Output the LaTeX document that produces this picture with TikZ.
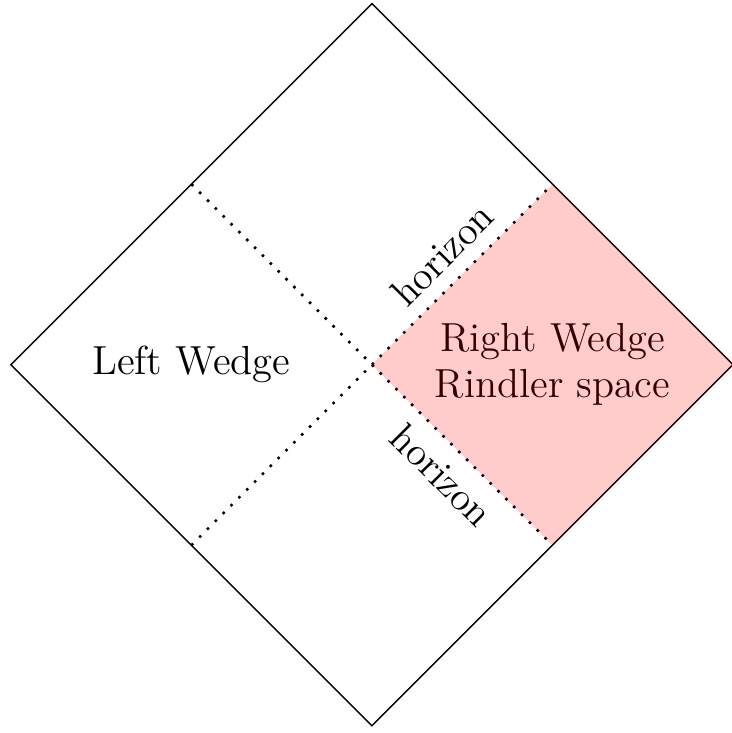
\documentclass[tikz,border=0pt]{standalone}
\usepackage{tikz}
\tikzset{
  outline/.style={draw=black, line width=0.45pt},
  horizonline/.style={line width=0.8pt, dash pattern=on 0.8pt off 2.7pt},
  wedgelabel/.style={font=\fontsize{12.8}{14.4}\selectfont, align=center},
  horizonlabel/.style={font=\fontsize{12.6}{14.4}\selectfont, sloped},
  rindler/.style={fill=red, fill opacity=0.2}
}
\begin{document}
\begin{tikzpicture}
\useasboundingbox (-4.12,-4.08) rectangle (3.98,4.04);
\coordinate (T) at (0,4);
\coordinate (R) at (4,0);
\coordinate (B) at (0,-4);
\coordinate (L) at (-4,0);
\coordinate (O) at (0,0);
\coordinate (UL) at (-2,2);
\coordinate (UR) at (2,2);
\coordinate (LL) at (-2,-2);
\coordinate (LR) at (2,-2);
\draw[outline] (T) -- (R) -- (B) -- (L) -- cycle;
\draw[horizonline] (UL) -- (LR);
\draw[horizonline] (LL) -- (UR);
\path (O) -- node[horizonlabel, above, midway, yshift=1pt] {horizon} (UR);
\path (O) -- node[horizonlabel, below, midway, yshift=-1pt] {horizon} (LR);
\node[wedgelabel] (left) at (-2,0) {Left Wedge};
\node[wedgelabel] (right) at (2,0) {Right Wedge\\Rindler space};
\fill[rindler] (O) -- (UR) -- (R) -- (LR) -- cycle;
\end{tikzpicture}
\end{document}
